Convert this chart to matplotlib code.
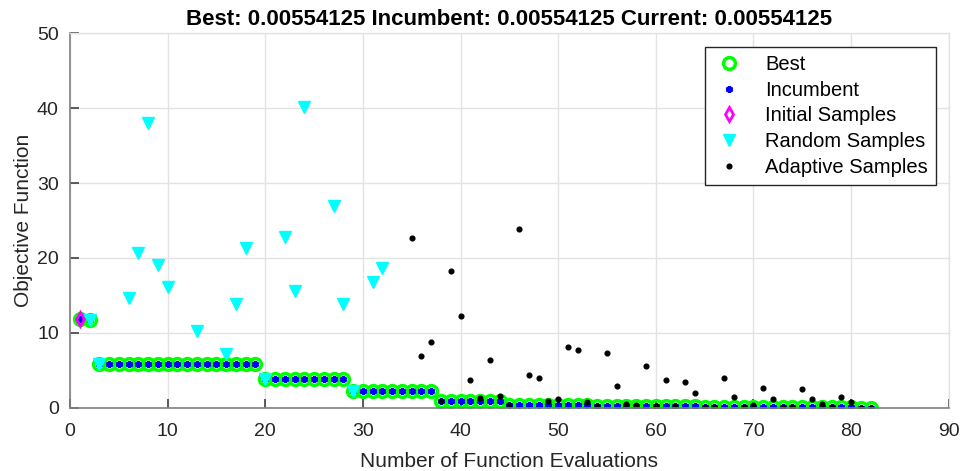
"""Recreate the surrogate optimisation progress plot (objective vs. evaluations)."""

import matplotlib
matplotlib.use("Agg")
import matplotlib.pyplot as plt

plt.rcParams["font.family"] = ["Liberation Sans", "DejaVu Sans"]

# evaluation index 1..82
evals = list(range(1, 83))

# best-so-far value per evaluation (step function)
best = ([11.84, 11.7]
        + [5.9] * 17        # 3..19
        + [3.85] * 9        # 20..28
        + [2.23] * 9        # 29..37
        + [0.94] * 7        # 38..44
        + [0.33] * 9        # 45..53
        + [0.25] * 6        # 54..59
        + [0.2] * 5         # 60..64
        + [0.1]             # 65
        + [0.08] * 8        # 66..73
        + [0.06] * 4        # 74..77
        + [0.04] * 3        # 78..80
        + [0.02, 0.00554125])
incumbent = list(best)

initial_x = [1]
initial_y = [11.84]

random_x = [2, 3, 6, 7, 8, 9, 10, 13, 16, 17, 18, 20, 22, 23, 24, 27, 28, 29, 31, 32]
random_y = [11.7, 5.83, 14.6, 20.6, 38.0, 19.1, 16.1, 10.25, 7.17, 13.9, 21.3,
            3.85, 22.8, 15.6, 40.2, 27.0, 13.9, 2.2, 16.8, 18.6]

adaptive_x = list(range(35, 83))
adaptive_y = [22.6, 6.94, 8.78, 0.94, 18.3, 12.2, 3.73, 1.23, 6.37, 1.54,
              0.33, 23.8, 4.36, 3.9, 0.96, 1.14, 8.07, 7.67, 0.7, 0.25,
              7.26, 2.84, 0.5, 0.38, 5.6, 0.2, 3.69, 0.25, 3.42, 1.9,
              0.1, 0.08, 3.95, 1.45, 0.1, 0.3, 2.57, 1.1, 0.08, 0.06,
              2.48, 1.18, 0.43, 0.04, 1.37, 0.74, 0.02, 0.00554125]

title = "Best: 0.00554125 Incumbent: 0.00554125 Current: 0.00554125"

AXIS_COLOR = "#808080"
GRID_COLOR = "#e3e3e3"

fig = plt.figure(figsize=(9.6, 4.71), dpi=100)
ax = fig.add_axes([0.0729, 0.1344, 0.9153, 0.7949])

ax.plot(evals, best, linestyle="none", marker="o", markersize=8.5,
        markerfacecolor="none", markeredgecolor="#00ff00", markeredgewidth=2.5,
        label="Best")
ax.plot(evals, incumbent, linestyle="none", marker=(6, 2, 0), markersize=5,
        color="blue", markeredgewidth=1.8, label="Incumbent")
ax.plot(initial_x, initial_y, linestyle="none", marker="d", markersize=7,
        markerfacecolor="none", markeredgecolor="magenta", markeredgewidth=2,
        label="Initial Samples")
ax.plot(random_x, random_y, linestyle="none", marker="v", markersize=9,
        color="cyan", label="Random Samples")
ax.plot(adaptive_x, adaptive_y, linestyle="none", marker="o", markersize=3.4,
        color="black", label="Adaptive Samples")

ax.set_xlim(0, 90)
ax.set_ylim(0, 50)
ax.set_xticks(range(0, 91, 10))
ax.set_yticks(range(0, 51, 10))
ax.grid(True, color=GRID_COLOR, linewidth=1)
ax.set_axisbelow(True)

for side in ("left", "bottom"):
    ax.spines[side].set_color(AXIS_COLOR)
    ax.spines[side].set_linewidth(1.2)
for side in ("top", "right"):
    ax.spines[side].set_color(GRID_COLOR)
    ax.spines[side].set_linewidth(1)
ax.tick_params(direction="in", length=6.5, width=1.2, color="#404040",
               labelsize=14, labelcolor="#262626")
ax.tick_params(axis="x", pad=11)
ax.tick_params(axis="y", pad=8)

ax.set_xlabel("Number of Function Evaluations", fontsize=15, color="#262626", labelpad=9)
ax.set_ylabel("Objective Function", fontsize=15, color="#262626", labelpad=3)
ax.set_title(title, fontsize=16, fontweight="bold", pad=6)

leg = ax.legend(loc="upper right", bbox_to_anchor=(936 / 960, 1 - 46.7 / 471),
                bbox_transform=fig.transFigure, borderaxespad=0,
                fontsize=14.5, fancybox=False, framealpha=1, edgecolor="#262626",
                handlelength=1.6, handletextpad=1.0, labelspacing=0.34,
                borderpad=0.4)
leg.get_frame().set_linewidth(1)

fig.savefig("out.png", dpi=100)
